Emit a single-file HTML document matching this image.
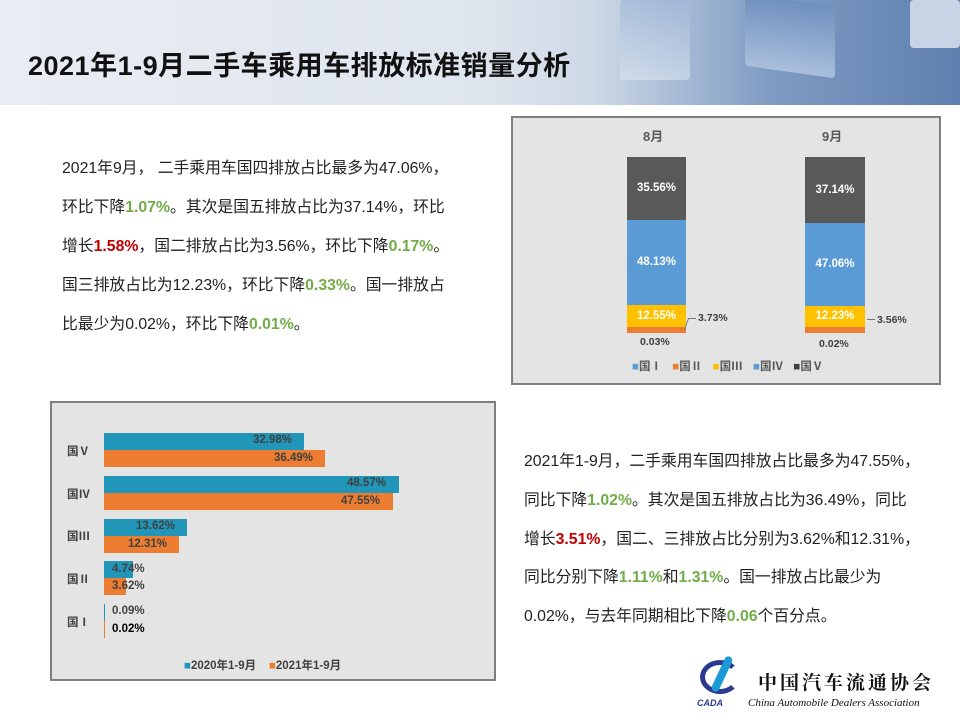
<!DOCTYPE html>
<html><head><meta charset="utf-8"><style>
*{margin:0;padding:0;box-sizing:border-box}
body{width:960px;height:720px;overflow:hidden;background:#fff;position:relative;font-family:"Liberation Sans","Noto Sans CJK SC",sans-serif}
.hdr{position:absolute;left:0;top:0;width:960px;height:105px;background:linear-gradient(90deg,#e9edf3 0%,#dfe5ee 50%,#cdd8e6 62%,#7f9cc3 80%,#5f7fae 100%)}
.cube{position:absolute;background:linear-gradient(180deg,#9fb6d6,#d9e3ef);border-radius:4px}
.title{position:absolute;left:28px;top:44px;font-size:27px;font-weight:bold;color:#111;letter-spacing:0.5px}
.p{position:absolute;font-size:15.8px;color:#222;white-space:nowrap}
.g{color:#70ad47;font-weight:bold}.r{color:#c00000;font-weight:bold}
.box{position:absolute;background:#e4e4e4;border:2px solid #7f7f7f}
.a{position:absolute}
.lab{position:absolute;font-size:11.5px;font-weight:bold;color:#fff;text-align:center}
.dl{position:absolute;font-size:11.5px;font-weight:bold;color:#404040;white-space:nowrap}
</style></head><body>
<div class="hdr"></div>
<div class="cube" style="left:620px;top:0;width:70px;height:80px;opacity:.6"></div>
<div class="cube" style="left:745px;top:0;width:90px;height:72px;transform:skewY(8deg);background:linear-gradient(180deg,#6f8fbd,#a9bfdc)"></div>
<div class="cube" style="left:910px;top:0;width:50px;height:48px;background:#c7d4e6"></div>
<div class="title">2021年1-9月二手车乘用车排放标准销量分析</div>

<div class="p" style="left:62px;top:155px">2021年9月， 二手乘用车国四排放占比最多为47.06%，</div>
<div class="p" style="left:62px;top:194px">环比下降<span class="g">1.07%</span>。其次是国五排放占比为37.14%，环比</div>
<div class="p" style="left:62px;top:233px">增长<span class="r">1.58%</span>，国二排放占比为3.56%，环比下降<span class="g">0.17%</span>。</div>
<div class="p" style="left:62px;top:272px">国三排放占比为12.23%，环比下降<span class="g">0.33%</span>。国一排放占</div>
<div class="p" style="left:62px;top:311px">比最少为0.02%，环比下降<span class="g">0.01%</span>。</div>

<div class="box" style="left:511px;top:116px;width:430px;height:269px"></div>
<div class="dl" style="left:643px;top:126px;font-size:13px;color:#595959">8月</div>
<div class="dl" style="left:822px;top:126px;font-size:13px;color:#595959">9月</div>
<div class="a" style="left:627px;top:157px;width:59px;height:63px;background:#595959"></div>
<div class="a" style="left:627px;top:220px;width:59px;height:85px;background:#5b9bd5"></div>
<div class="a" style="left:627px;top:305px;width:59px;height:22px;background:#ffc000"></div>
<div class="a" style="left:627px;top:327px;width:59px;height:6px;background:#ed7d31"></div>
<div class="lab" style="left:627px;top:182px;width:59px">35.56%</div>
<div class="lab" style="left:627px;top:256px;width:59px">48.13%</div>
<div class="lab" style="left:627px;top:310px;width:59px">12.55%</div>
<div class="a" style="left:686px;top:318px;width:1px;height:12px;background:#777;transform:skewX(-20deg)"></div>
<div class="a" style="left:688px;top:318px;width:8px;height:1px;background:#777"></div>
<div class="dl" style="left:698px;top:312px;font-size:10.5px">3.73%</div>
<div class="dl" style="left:640px;top:336px;font-size:10.5px">0.03%</div>
<div class="a" style="left:805px;top:157px;width:60px;height:66px;background:#595959"></div>
<div class="a" style="left:805px;top:223px;width:60px;height:83px;background:#5b9bd5"></div>
<div class="a" style="left:805px;top:306px;width:60px;height:21px;background:#ffc000"></div>
<div class="a" style="left:805px;top:327px;width:60px;height:6px;background:#ed7d31"></div>
<div class="lab" style="left:805px;top:184px;width:60px">37.14%</div>
<div class="lab" style="left:805px;top:258px;width:60px">47.06%</div>
<div class="lab" style="left:805px;top:310px;width:60px">12.23%</div>
<div class="a" style="left:867px;top:319px;width:8px;height:1px;background:#777"></div>
<div class="dl" style="left:877px;top:314px;font-size:10.5px">3.56%</div>
<div class="dl" style="left:819px;top:338px;font-size:10.5px">0.02%</div>
<div class="dl" style="left:632px;top:358px;font-size:11.5px;color:#595959;word-spacing:2px">
<span style="color:#5b9bd5">■</span>国Ⅰ &nbsp;<span style="color:#ed7d31">■</span>国Ⅱ &nbsp;<span style="color:#ffc000">■</span>国Ⅲ &nbsp;<span style="color:#5b9bd5">■</span>国Ⅳ &nbsp;<span style="color:#404040">■</span>国Ⅴ</div>

<div class="box" style="left:50px;top:401px;width:446px;height:280px"></div>
<div class="a" style="left:104px;top:433px;width:200px;height:17px;background:#2196b8"></div>
<div class="a" style="left:104px;top:450px;width:221px;height:17px;background:#ed7d31"></div>
<div class="a" style="left:104px;top:476px;width:295px;height:17px;background:#2196b8"></div>
<div class="a" style="left:104px;top:493px;width:289px;height:17px;background:#ed7d31"></div>
<div class="a" style="left:104px;top:519px;width:83px;height:17px;background:#2196b8"></div>
<div class="a" style="left:104px;top:536px;width:75px;height:17px;background:#ed7d31"></div>
<div class="a" style="left:104px;top:561px;width:29px;height:17px;background:#2196b8"></div>
<div class="a" style="left:104px;top:578px;width:22px;height:17px;background:#ed7d31"></div>
<div class="a" style="left:104px;top:604px;width:1px;height:17px;background:#2196b8"></div>
<div class="a" style="left:104px;top:621px;width:1px;height:17px;background:#ed7d31"></div>
<div class="dl" style="left:253px;top:434px">32.98%</div>
<div class="dl" style="left:274px;top:452px">36.49%</div>
<div class="dl" style="left:347px;top:477px">48.57%</div>
<div class="dl" style="left:341px;top:495px">47.55%</div>
<div class="dl" style="left:136px;top:520px">13.62%</div>
<div class="dl" style="left:128px;top:538px">12.31%</div>
<div class="dl" style="left:112px;top:563px">4.74%</div>
<div class="dl" style="left:112px;top:580px">3.62%</div>
<div class="dl" style="left:112px;top:605px">0.09%</div>
<div class="dl" style="left:112px;top:623px;color:#000">0.02%</div>
<div class="dl" style="left:67px;top:443px">国Ⅴ</div>
<div class="dl" style="left:67px;top:486px">国Ⅳ</div>
<div class="dl" style="left:67px;top:528px">国Ⅲ</div>
<div class="dl" style="left:67px;top:571px">国Ⅱ</div>
<div class="dl" style="left:67px;top:614px">国Ⅰ</div>
<div class="dl" style="left:184px;top:657px;color:#404040"><span style="color:#2196b8">■</span>2020年1-9月 &nbsp; &nbsp;<span style="color:#ed7d31">■</span>2021年1-9月</div>

<div class="p" style="left:524px;top:448px">2021年1-9月，二手乘用车国四排放占比最多为47.55%，</div>
<div class="p" style="left:524px;top:487px">同比下降<span class="g">1.02%</span>。其次是国五排放占比为36.49%，同比</div>
<div class="p" style="left:524px;top:526px">增长<span class="r">3.51%</span>，国二、三排放占比分别为3.62%和12.31%，</div>
<div class="p" style="left:524px;top:564px">同比分别下降<span class="g">1.11%</span>和<span class="g">1.31%</span>。国一排放占比最少为</div>
<div class="p" style="left:524px;top:603px">0.02%，与去年同期相比下降<span class="g">0.06</span>个百分点。</div>

<div class="a" style="left:700px;top:660px;width:40px;height:34px;border:5px solid #2b3a8f;border-radius:50%;border-right-color:transparent"></div>
<div class="a" style="left:718px;top:655px;width:8px;height:38px;background:#1a9ad6;border-radius:4px;transform:rotate(25deg)"></div>
<div class="dl" style="left:697px;top:698px;font-size:9px;color:#2b3a8f;font-style:italic">CADA</div>
<div class="dl" style="left:758px;top:668px;font-size:19px;color:#111;letter-spacing:3px;font-family:'Noto Serif CJK SC',serif">中国汽车流通协会</div>
<div class="dl" style="left:748px;top:697px;font-size:11px;color:#111;font-style:italic;font-weight:normal;font-family:'Liberation Serif',serif">China Automobile Dealers Association</div>
</body></html>
